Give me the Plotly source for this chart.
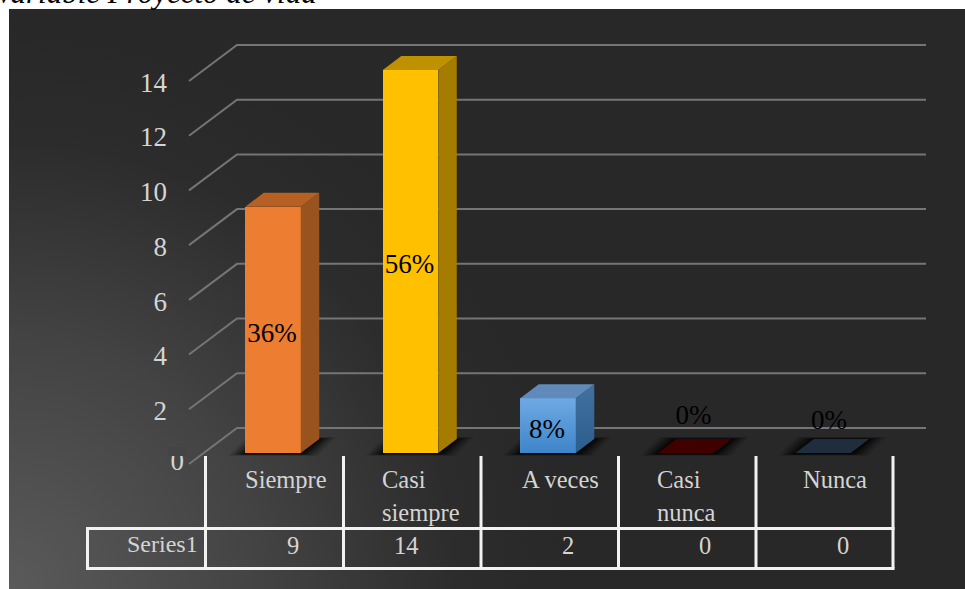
import base64
import plotly.graph_objects as go

# ---- data ----
CATEGORIES = ["Siempre", "Casi<br>siempre", "A veces", "Casi<br>nunca", "Nunca"]
VALUES = [9, 14, 2, 0, 0]
PERCENT_LABELS = ["36%", "56%", "8%", "0%", "0%"]
Y_TICKS = [0, 2, 4, 6, 8, 10, 12, 14]
SERIES_NAME = "Series1"
TITLE = "Variable Proyecto de vida"

# ---- style / layout ----
W, H = 965, 589
X0, XSTEP = 273.0, 137.5      # pixel of first category, pixel per category
Y0, YSTEP = 453.0, 27.36      # pixel of value 0 on the front plane, pixel per unit
BAR_W = 55.5 / XSTEP
DEPTH_X, DEPTH_Y = 18.5 / XSTEP, 14 / YSTEP
FRONT = ["#ed7d31", "#ffc000", "#5b9bd5", "#c00000", "#44546a"]
SIDE = ["#99531f", "#a67c00", "#3a6a98", "#400000", "#1f2d3d"]
TOP = ["#b66024", "#bf9000", "#5f8aba", "#400000", "#1f2d3d"]
GRID = "#757575"
TEXT = "#d4d4d4"
SERIF = "Liberation Serif"


def px_x(v):
    return (v - X0) / XSTEP


def px_y(v):
    return (Y0 - v) / YSTEP


fig = go.Figure()

# walls (base subplot, so everything on the overlay sits above them)
for t in Y_TICKS:
    back_y = t + 25 / YSTEP
    front_y = t - 11 / YSTEP
    fig.add_trace(go.Scatter(x=[px_x(189), px_x(237), px_x(926)], y=[front_y, back_y, back_y],
                             mode="lines", line=dict(color=GRID, width=2), hoverinfo="skip", showlegend=False))

# floor shadows: stacked parallelograms that fade out sideways
for i, _ in enumerate(VALUES):
    l, r = i - BAR_W / 2, i + BAR_W / 2
    for spread, op in [(17, 0.10), (14, 0.14), (11, 0.18), (8, 0.25), (5, 0.35), (2, 0.5)]:
        e = spread / XSTEP
        low, high = -(1 + spread * 0.1) / YSTEP, DEPTH_Y + (spread * 0.12) / YSTEP
        fig.add_trace(go.Scatter(x=[l - e, r + e, r + DEPTH_X + e, l + DEPTH_X - e, l - e],
                                 y=[low, low, high, high, low],
                                 mode="none", fill="toself", fillcolor=f"rgba(0,0,0,{op})",
                                 hoverinfo="skip", showlegend=False))

OV = dict(xaxis="x2", yaxis="y2", hoverinfo="skip", showlegend=False)

# front faces
fig.add_trace(go.Bar(x=list(range(len(VALUES))), y=VALUES, width=BAR_W,
                     marker=dict(color=FRONT, line=dict(width=0)), **OV))

# side and top faces derive from the values
GRAD_FRONT = {2: ["#6fa9e4", "#3d85c9"]}
GRAD_SIDE = {2: ["#42719f", "#2b5d8d"]}
for i, v in enumerate(VALUES):
    l, r = i - BAR_W / 2, i + BAR_W / 2
    if i in GRAD_FRONT:
        fig.add_trace(go.Scatter(x=[l, r, r, l, l], y=[0, 0, v, v, 0], mode="none", fill="toself",
                                 fillgradient=dict(type="vertical",
                                                   colorscale=[[0, GRAD_FRONT[i][1]], [1, GRAD_FRONT[i][0]]]), **OV))
    if v > 0:
        side = dict(fillcolor=SIDE[i])
        if i in GRAD_SIDE:
            side = dict(fillgradient=dict(type="vertical",
                                          colorscale=[[0, GRAD_SIDE[i][1]], [1, GRAD_SIDE[i][0]]]))
        fig.add_trace(go.Scatter(x=[r, r + DEPTH_X, r + DEPTH_X, r, r],
                                 y=[0, DEPTH_Y, v + DEPTH_Y, v, 0],
                                 mode="none", fill="toself", **side, **OV))
    fig.add_trace(go.Scatter(x=[l, r, r + DEPTH_X, l + DEPTH_X, l],
                             y=[v, v, v + DEPTH_Y, v + DEPTH_Y, v],
                             mode="none", fill="toself", fillcolor=TOP[i], **OV))

# data labels (screen offsets from each bar's centre)
LABEL_DX = [-1, -1, -1, 8, 6]
LABEL_DY = [5, 5, 6, -36, -31]
fig.add_trace(go.Scatter(
    x=[i + LABEL_DX[i] / XSTEP for i in range(len(VALUES))],
    y=[v / 2 - LABEL_DY[i] / YSTEP for i, v in enumerate(VALUES)],
    mode="text", text=PERCENT_LABELS, textposition="middle center",
    textfont=dict(family=SERIF, size=27, color="black"), **OV))

# value axis labels; the zero label sits apart from the others in the source
TICK_PX_RIGHT = [184 if t == 0 else 167 for t in Y_TICKS]
TICK_DY = [10 if t == 0 else 15 for t in Y_TICKS]
fig.add_trace(go.Scatter(
    x=[px_x(p) for p in TICK_PX_RIGHT], y=[t - d / YSTEP for t, d in zip(Y_TICKS, TICK_DY)],
    mode="text", text=[str(t) for t in Y_TICKS], textposition="middle left",
    textfont=dict(family=SERIF, size=27, color=TEXT), **OV))

# background gradient
svg = f'''<svg xmlns="http://www.w3.org/2000/svg" width="{W}" height="{H}">
<defs><radialGradient id="g" gradientUnits="userSpaceOnUse" cx="9" cy="589" r="560">
<stop offset="0" stop-color="#5a5a5a"/><stop offset="0.45" stop-color="#434343"/>
<stop offset="0.8" stop-color="#2c2c2c"/><stop offset="1" stop-color="#282828"/></radialGradient></defs>
<rect x="9" y="9" width="{W - 9}" height="{H - 9}" fill="url(#g)"/></svg>'''
uri = "data:image/svg+xml;base64," + base64.b64encode(svg.encode()).decode()

PX = lambda x: x / W
PY = lambda y: 1 - y / H

shapes = []
TABLE_X = [205.5, 343.5, 481, 618.5, 756, 893]
for x in TABLE_X:
    shapes.append(dict(type="line", xref="paper", yref="paper", x0=PX(x), x1=PX(x), y0=PY(456), y1=PY(568.5),
                       line=dict(color="#f2f2f2", width=3)))
shapes.append(dict(type="line", xref="paper", yref="paper", x0=PX(87.5), x1=PX(87.5), y0=PY(527), y1=PY(570),
                   line=dict(color="#f2f2f2", width=3)))
for y in (528.5, 568.5):
    shapes.append(dict(type="line", xref="paper", yref="paper", x0=PX(86), x1=PX(894.5), y0=PY(y), y1=PY(y),
                       line=dict(color="#f2f2f2", width=3)))
# masks the clipped top of the "0" tick label as in the source
shapes.append(dict(type="rect", xref="paper", yref="paper", x0=PX(168), x1=PX(186), y0=PY(447), y1=PY(456),
                   fillcolor="#444444", line=dict(width=0), layer="above"))

ann = []


def label(text, x, y, anchor="left", size=24.5):
    ann.append(dict(text=text, xref="paper", yref="paper", x=PX(x), y=PY(y), xanchor=anchor, yanchor="middle",
                    showarrow=False, font=dict(family=SERIF, size=size, color=TEXT), align=anchor))


CAT_LEFT = [243, 380, 520, 655, 801]
for cat, x in zip(CATEGORIES, CAT_LEFT):
    for k, part in enumerate(cat.split("<br>")):
        label(part, x, 479 + 33 * k)
VAL_CENTER = [293, 406, 568, 705, 843]
for v, x in zip(VALUES, VAL_CENTER):
    label(str(v), x, 545, "center")
label(SERIES_NAME, 200, 544, "right", 24)

ann.append(dict(text="<i>" + TITLE + "</i>", xref="paper", yref="paper", x=PX(319), y=PY(12),
                xanchor="right", yanchor="bottom", showarrow=False,
                font=dict(family=SERIF, size=31, color="black")))

AX = dict(visible=False, fixedrange=True)
fig.update_layout(
    width=W, height=H, margin=dict(l=0, r=0, t=0, b=0), paper_bgcolor="white", plot_bgcolor="rgba(0,0,0,0)",
    xaxis=dict(range=[px_x(0), px_x(W)], **AX),
    yaxis=dict(range=[px_y(H), px_y(0)], **AX),
    xaxis2=dict(range=[px_x(0), px_x(W)], overlaying="x", **AX),
    yaxis2=dict(range=[px_y(H), px_y(0)], overlaying="y", **AX),
    showlegend=False, bargap=0,
    images=[dict(source=uri, xref="paper", yref="paper", x=0, y=1, sizex=1, sizey=1,
                 sizing="stretch", xanchor="left", yanchor="top", layer="below")],
    shapes=shapes, annotations=ann,
)

fig.write_html("out.html", config=dict(displayModeBar=False),
               post_script="document.body.style.margin='0';document.body.style.overflow='hidden';")
